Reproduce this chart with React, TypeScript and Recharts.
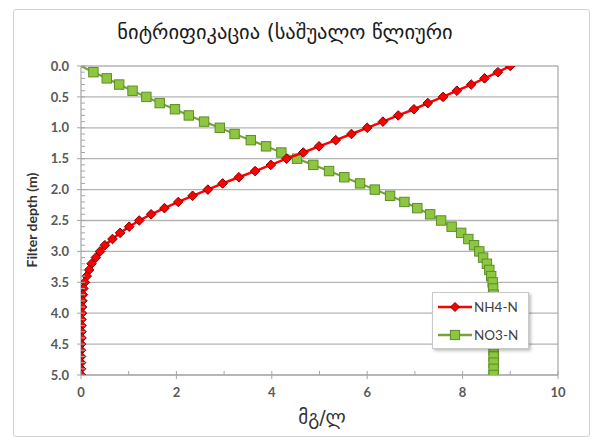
import React from "react";
import { ScatterChart, Scatter, XAxis, YAxis, CartesianGrid, ReferenceLine } from "recharts";

const titleText = "ნიტრიფიკაცია (საშუალო წლიური";
const xTitle = "მგ/ლ";
const yTitle = "Filter depth (m)";
const seriesNames = ["NH4-N", "NO3-N"];

const depth = [
  0.0, 0.1, 0.2, 0.3, 0.4, 0.5, 0.6, 0.7, 0.8, 0.9,
  1.0, 1.1, 1.2, 1.3, 1.4, 1.5, 1.6, 1.7, 1.8, 1.9,
  2.0, 2.1, 2.2, 2.3, 2.4, 2.5, 2.6, 2.7, 2.8, 2.9,
  3.0, 3.1, 3.2, 3.3, 3.4, 3.5, 3.6, 3.7, 3.8, 3.9,
  4.0, 4.1, 4.2, 4.3, 4.4, 4.5, 4.6, 4.7, 4.8, 4.9, 5.0,
];

const nh4 = [
  9.0, 8.74, 8.46, 8.18, 7.88, 7.59, 7.27, 6.98, 6.65, 6.33,
  6.0, 5.67, 5.34, 4.99, 4.66, 4.31, 3.98, 3.65, 3.31, 2.97,
  2.66, 2.34, 2.04, 1.75, 1.47, 1.22, 1.01, 0.82, 0.66, 0.5,
  0.4, 0.31, 0.22, 0.17, 0.12, 0.08, 0.05, 0.04, 0.03, 0.02,
  0.02, 0.01, 0.01, 0.01, 0.01, 0.0, 0.0, 0.0, 0.0, 0.0, 0.0,
];

const no3 = [
  0.0, 0.26, 0.54, 0.8, 1.08, 1.37, 1.65, 1.97, 2.26, 2.58,
  2.91, 3.22, 3.56, 3.88, 4.2, 4.53, 4.87, 5.2, 5.52, 5.85,
  6.16, 6.48, 6.78, 7.05, 7.32, 7.55, 7.77, 7.97, 8.12, 8.24,
  8.35, 8.43, 8.51, 8.56, 8.6, 8.63, 8.64, 8.65, 8.65, 8.65,
  8.65, 8.65, 8.65, 8.65, 8.65, 8.65, 8.65, 8.65, 8.65, 8.65, 8.65,
];

const xTicks = [0, 1, 2, 3, 4, 5, 6, 7, 8, 9, 10];
const xMajor = [0, 2, 4, 6, 8, 10];
const yTicks = [
  0.0, 0.1, 0.2, 0.3, 0.4, 0.5, 0.6, 0.7, 0.8, 0.9,
  1.0, 1.1, 1.2, 1.3, 1.4, 1.5, 1.6, 1.7, 1.8, 1.9,
  2.0, 2.1, 2.2, 2.3, 2.4, 2.5, 2.6, 2.7, 2.8, 2.9,
  3.0, 3.1, 3.2, 3.3, 3.4, 3.5, 3.6, 3.7, 3.8, 3.9,
  4.0, 4.1, 4.2, 4.3, 4.4, 4.5, 4.6, 4.7, 4.8, 4.9, 5.0,
];
const yMajor = [0, 0.5, 1, 1.5, 2, 2.5, 3, 3.5, 4, 4.5, 5];

const nh4Points = depth.map((d, i) => ({ x: nh4[i], y: d }));
const no3Points = depth.map((d, i) => ({ x: no3[i], y: d }));

const RED = "#ff0000";
const RED_EDGE = "#7a0000";
const GREEN = "#8dc63f";
const GREEN_EDGE = "#5e8c2a";
const GREEN_LINE = "#77a33a";
const AXIS = "#a6a6a6";
const GRID = "#b3b3b3";
const LABEL = "#595959";
const LATIN = "Lato, 'Open Sans', 'DejaVu Sans', sans-serif";
const GEO = "'DejaVu Sans', 'Noto Sans', sans-serif";

const isMajorY = (v: number) => yMajor.some((m) => Math.abs(m - v) < 1e-6);
const isMajorX = (v: number) => xMajor.some((m) => Math.abs(m - v) < 1e-6);

const XTick = (props: any) => {
  const { x, y, payload } = props;
  const major = isMajorX(payload.value);
  return (
    <g>
      <line x1={x} x2={x} y1={y - 4} y2={major ? y + 4 : y} stroke={AXIS} strokeWidth={1} />
      {major && (
        <text x={x} y={y + 22} textAnchor="middle" fill={LABEL} fontSize={13} fontWeight={700} fontFamily={LATIN}>
          {payload.value}
        </text>
      )}
    </g>
  );
};

const YTick = (props: any) => {
  const { x, y, payload } = props;
  const major = isMajorY(payload.value);
  return (
    <g>
      <line x1={major ? x - 4 : x} x2={x + 4} y1={y} y2={y} stroke={AXIS} strokeWidth={1} />
      {major && (
        <text x={x - 12} y={y} dy="0.36em" textAnchor="end" fill={LABEL} fontSize={13} fontWeight={700} fontFamily={LATIN}>
          {Number(payload.value).toFixed(1)}
        </text>
      )}
    </g>
  );
};

const Diamond = (props: any) => {
  const { cx, cy } = props;
  if (cx == null || cy == null) return null;
  const r = 4.8;
  return (
    <path
      d={`M${cx},${cy - r}L${cx + r},${cy}L${cx},${cy + r}L${cx - r},${cy}Z`}
      fill={RED}
      stroke={RED_EDGE}
      strokeWidth={1}
    />
  );
};

const Square = (props: any) => {
  const { cx, cy, payload } = props;
  if (cx == null || cy == null) return null;
  if (payload && payload.y === 0 && payload.x === 0) return <g />;
  const s = 4.7;
  return <rect x={cx - s} y={cy - s} width={s * 2} height={s * 2} fill={GREEN} stroke={GREEN_EDGE} strokeWidth={1} />;
};

export default function App() {
  return (
    <div style={{ position: "absolute", left: 0, top: 0, width: 592, height: 437, background: "#fff", overflow: "hidden" }}>
      <div
        style={{
          position: "absolute",
          left: 13,
          top: 9,
          width: 575,
          height: 426,
          border: "1px solid #d0d0d0",
          borderRadius: 3,
        }}
      />
      <div
        style={{
          position: "absolute",
          left: 0,
          width: 570,
          top: 20,
          textAlign: "center",
          fontFamily: GEO,
          fontSize: 20.5,
          color: "#1a1a1a",
          whiteSpace: "nowrap",
        }}
      >
        {titleText}
      </div>
      <div style={{ position: "absolute", left: 0, top: 0 }}>
        <ScatterChart width={592} height={437} margin={{ top: 66, right: 34, bottom: 32, left: 31 }}>
          <CartesianGrid horizontalValues={yMajor} vertical={false} stroke={GRID} strokeWidth={1.3} />
          <XAxis
            type="number"
            dataKey="x"
            domain={[0, 10]}
            ticks={xTicks}
            interval={0}
            tick={<XTick />}
            tickLine={false}
            tickSize={0}
            tickMargin={0}
            axisLine={{ stroke: AXIS, strokeWidth: 1.2 }}
            height={30}
            allowDataOverflow
          />
          <YAxis
            type="number"
            dataKey="y"
            domain={[0, 5]}
            reversed
            ticks={yTicks}
            interval={0}
            tick={<YTick />}
            tickLine={false}
            tickSize={0}
            tickMargin={0}
            axisLine={{ stroke: AXIS, strokeWidth: 1.2 }}
            width={50}
            allowDataOverflow
          />
          <ReferenceLine x={10} stroke={AXIS} strokeWidth={1.2} />
          <Scatter
            name={seriesNames[1]}
            data={no3Points}
            line={{ stroke: GREEN_LINE, strokeWidth: 2.2 }}
            lineType="joint"
            shape={<Square />}
            isAnimationActive={false}
          />
          <Scatter
            name={seriesNames[0]}
            data={nh4Points}
            line={{ stroke: RED, strokeWidth: 2.5 }}
            lineType="joint"
            shape={<Diamond />}
            isAnimationActive={false}
          />
        </ScatterChart>
      </div>
      <div
        style={{
          position: "absolute",
          left: 31,
          top: 220,
          transform: "translate(-50%, -50%) rotate(-90deg)",
          whiteSpace: "nowrap",
          fontFamily: LATIN,
          fontWeight: 700,
          fontSize: 14,
          color: "#333",
        }}
      >
        {yTitle}
      </div>
      <div
        style={{
          position: "absolute",
          left: 322,
          top: 417,
          transform: "translate(-50%, -50%)",
          whiteSpace: "nowrap",
          fontFamily: GEO,
          fontSize: 19,
          color: "#333",
        }}
      >
        {xTitle}
      </div>
      <div
        style={{
          position: "absolute",
          left: 432,
          top: 292,
          width: 97,
          height: 57,
          background: "#fff",
          border: "1px solid #c8c8c8",
          boxShadow: "2px 2px 3px rgba(0,0,0,0.25)",
          boxSizing: "border-box",
          fontFamily: LATIN,
          fontSize: 13.5,
          color: "#404040",
        }}
      >
        {[0, 1].map((i) => (
          <div key={i} style={{ position: "absolute", left: 4, top: i === 0 ? 4 : 32, height: 20, display: "flex", alignItems: "center" }}>
            <svg width={36} height={14}>
              <line x1={1} x2={35} y1={7} y2={7} stroke={i === 0 ? RED : GREEN_LINE} strokeWidth={2.5} />
              {i === 0 ? (
                <path d="M18,2.5L22.5,7L18,11.5L13.5,7Z" fill={RED} stroke={RED_EDGE} strokeWidth={1} />
              ) : (
                <rect x={13.4} y={2.4} width={9.2} height={9.2} fill={GREEN} stroke={GREEN_EDGE} strokeWidth={1} />
              )}
            </svg>
            <span style={{ marginLeft: 1 }}>{seriesNames[i]}</span>
          </div>
        ))}
      </div>
    </div>
  );
}
